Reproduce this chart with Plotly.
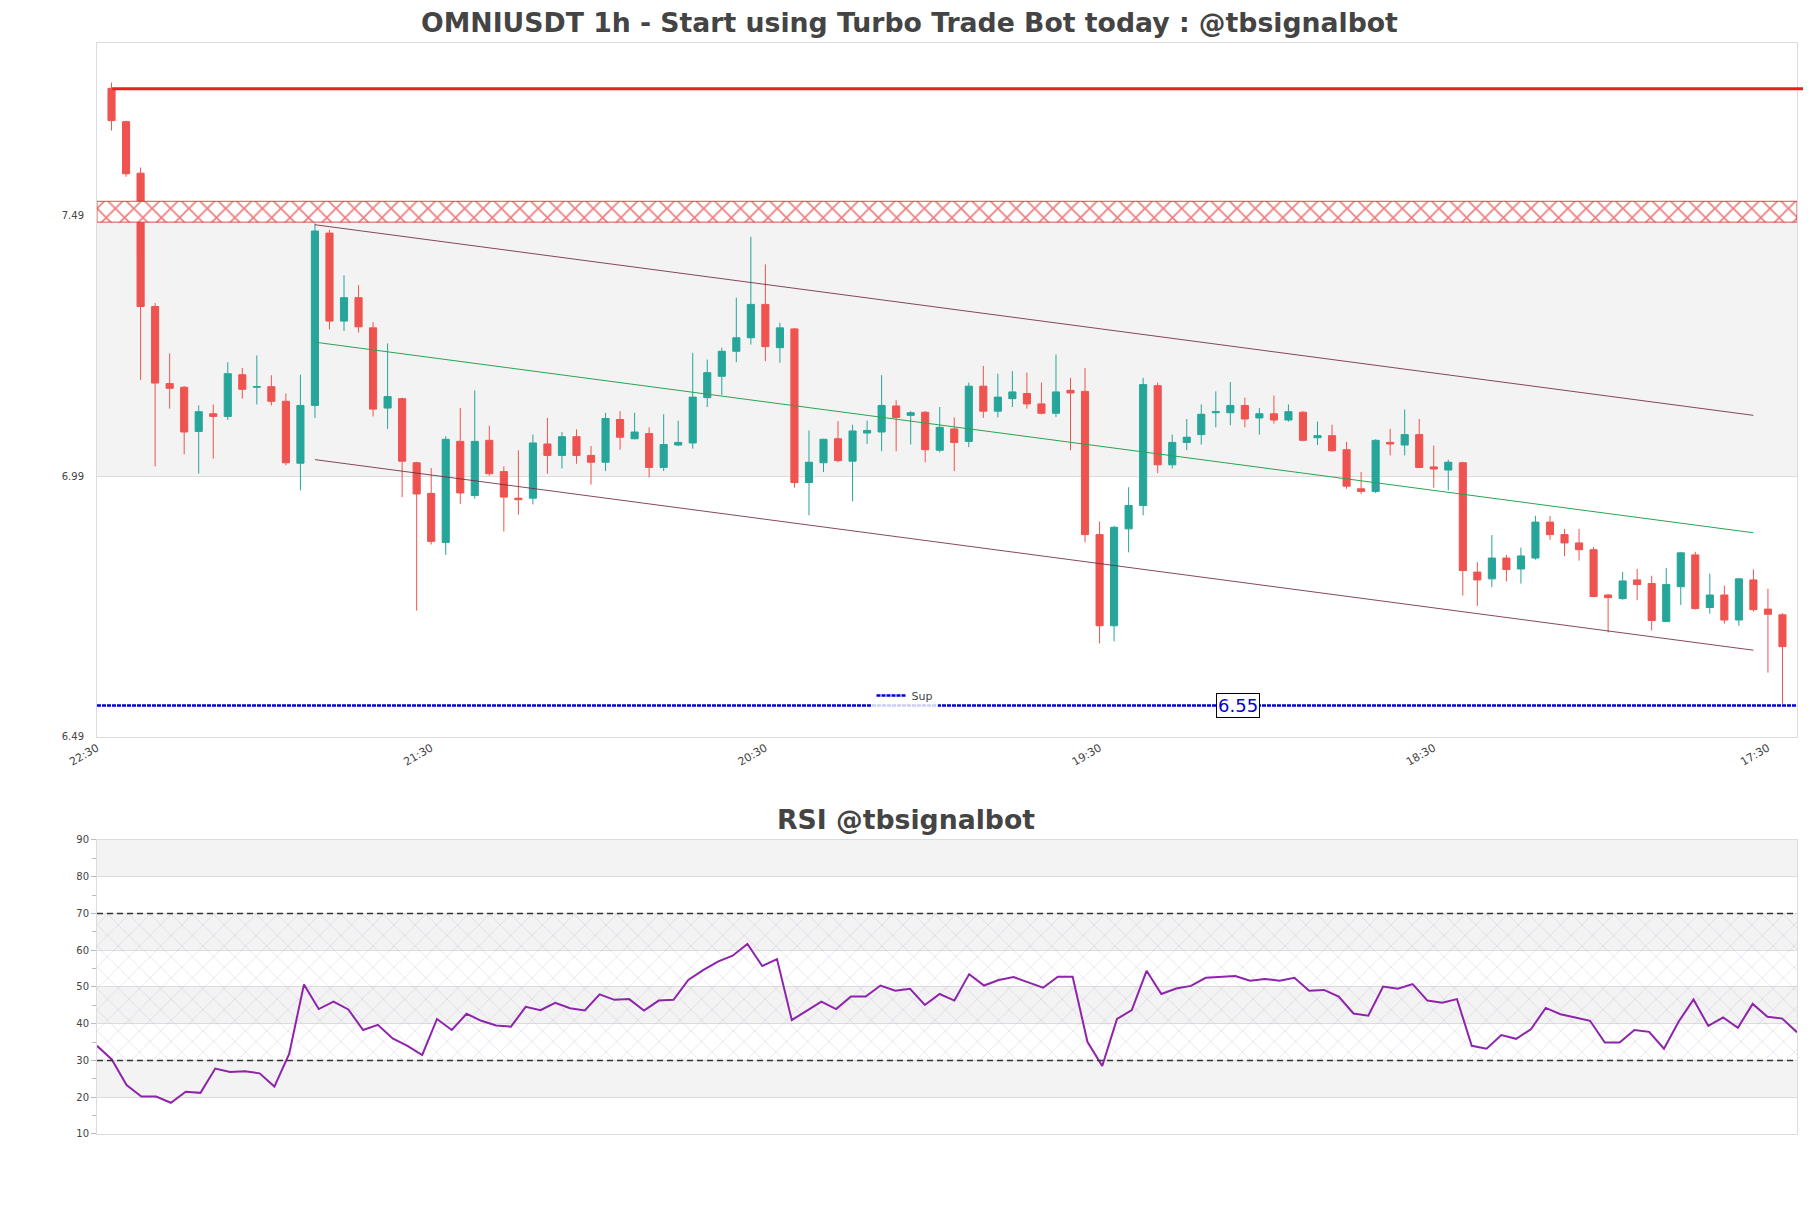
import pandas as pd
import plotly.graph_objects as go

TITLE = "OMNIUSDT 1h - Start using Turbo Trade Bot today : @tbsignalbot"
RSI_TITLE = "RSI @tbsignalbot"
FIRST_CANDLE = "2024-10-28 23:30"

# hourly candles, left to right
opens = [
	7.735, 7.671, 7.572, 7.316, 7.168, 7.161, 7.076, 7.110, 7.105, 7.185,
	7.161, 7.162, 7.134, 7.015, 7.126, 7.457, 7.288, 7.333, 7.275, 7.121,
	7.139, 7.016, 6.957, 6.863, 7.057, 6.953, 7.059, 6.999, 6.948, 6.948,
	7.052, 7.030, 7.066, 7.030, 7.017, 7.099, 7.062, 7.072, 7.007, 7.050,
	7.054, 7.141, 7.182, 7.230, 7.256, 7.320, 7.237, 7.273, 6.978, 7.016,
	7.062, 7.019, 7.073, 7.075, 7.125, 7.107, 7.113, 7.040, 7.081, 7.057,
	7.163, 7.115, 7.139, 7.149, 7.129, 7.111, 7.155, 7.153, 6.878, 6.703,
	6.889, 6.934, 7.164, 7.012, 7.055, 7.070, 7.112, 7.112, 7.126, 7.102,
	7.110, 7.098, 7.113, 7.064, 7.068, 7.041, 6.966, 6.961, 7.055, 7.050,
	7.070, 7.008, 7.002, 7.016, 6.806, 6.793, 6.833, 6.812, 6.833, 6.902,
	6.878, 6.862, 6.849, 6.762, 6.755, 6.791, 6.784, 6.711, 6.778, 6.839,
	6.738, 6.762, 6.714, 6.791, 6.735, 6.724,
]
highs = [
	7.746, 7.673, 7.583, 7.323, 7.226, 7.163, 7.126, 7.128, 7.209, 7.198,
	7.222, 7.184, 7.149, 7.185, 7.476, 7.463, 7.376, 7.357, 7.286, 7.245,
	7.141, 7.018, 7.006, 7.067, 7.121, 7.155, 7.087, 7.009, 7.040, 7.070,
	7.102, 7.075, 7.080, 7.048, 7.112, 7.115, 7.112, 7.084, 7.109, 7.097,
	7.227, 7.214, 7.237, 7.333, 7.450, 7.397, 7.285, 7.275, 7.078, 7.062,
	7.096, 7.089, 7.097, 7.184, 7.136, 7.115, 7.115, 7.123, 7.103, 7.170,
	7.202, 7.187, 7.192, 7.189, 7.170, 7.224, 7.179, 7.198, 6.903, 6.895,
	6.969, 7.179, 7.170, 7.070, 7.100, 7.128, 7.153, 7.171, 7.141, 7.121,
	7.145, 7.128, 7.115, 7.095, 7.089, 7.056, 6.998, 7.061, 7.081, 7.118,
	7.100, 7.049, 7.022, 7.018, 6.825, 6.877, 6.839, 6.853, 6.914, 6.914,
	6.889, 6.889, 6.854, 6.764, 6.806, 6.812, 6.799, 6.814, 6.844, 6.845,
	6.803, 6.780, 6.794, 6.811, 6.774, 6.727,
]
lows = [
	7.654, 7.565, 7.175, 7.009, 7.120, 7.032, 6.995, 7.024, 7.098, 7.139,
	7.128, 7.126, 7.011, 6.963, 7.102, 7.272, 7.269, 7.266, 7.105, 7.081,
	6.950, 6.732, 6.859, 6.839, 6.937, 6.947, 6.991, 6.884, 6.916, 6.936,
	6.995, 7.005, 7.014, 6.974, 7.000, 7.041, 7.061, 6.988, 7.000, 7.048,
	7.043, 7.123, 7.146, 7.209, 7.243, 7.211, 7.208, 6.968, 6.915, 6.998,
	7.017, 6.942, 7.052, 7.038, 7.038, 7.051, 7.017, 7.036, 7.000, 7.046,
	7.102, 7.103, 7.123, 7.120, 7.109, 7.104, 7.040, 6.863, 6.669, 6.673,
	6.844, 6.915, 6.996, 7.005, 7.040, 7.051, 7.084, 7.088, 7.084, 7.070,
	7.091, 7.095, 7.057, 7.050, 7.037, 6.966, 6.956, 6.958, 7.030, 7.030,
	7.006, 6.968, 6.963, 6.761, 6.741, 6.777, 6.788, 6.784, 6.830, 6.868,
	6.837, 6.828, 6.758, 6.690, 6.753, 6.752, 6.694, 6.710, 6.743, 6.734,
	6.726, 6.707, 6.703, 6.730, 6.613, 6.553,
]
closes = [
	7.673, 7.571, 7.316, 7.169, 7.159, 7.075, 7.114, 7.105, 7.187, 7.157,
	7.162, 7.134, 7.016, 7.126, 7.461, 7.288, 7.333, 7.277, 7.119, 7.143,
	7.019, 6.956, 6.865, 7.061, 6.958, 7.057, 6.995, 6.950, 6.945, 7.054,
	7.030, 7.066, 7.030, 7.017, 7.101, 7.065, 7.075, 7.007, 7.051, 7.055,
	7.142, 7.189, 7.230, 7.256, 7.320, 7.239, 7.275, 6.978, 7.017, 7.061,
	7.020, 7.077, 7.078, 7.126, 7.103, 7.112, 7.041, 7.084, 7.055, 7.163,
	7.115, 7.142, 7.152, 7.129, 7.111, 7.152, 7.150, 6.878, 6.703, 6.892,
	6.934, 7.166, 7.012, 7.055, 7.065, 7.109, 7.114, 7.126, 7.100, 7.110,
	7.098, 7.114, 7.059, 7.068, 7.039, 6.971, 6.961, 7.059, 7.052, 7.070,
	7.007, 7.004, 7.017, 6.809, 6.791, 6.833, 6.811, 6.837, 6.902, 6.878,
	6.862, 6.849, 6.759, 6.757, 6.789, 6.782, 6.713, 6.782, 6.843, 6.736,
	6.762, 6.714, 6.793, 6.734, 6.725, 6.663,
]
rsi = [
	34.0, 30.3, 23.3, 20.2, 20.2, 18.5, 21.5, 21.2, 27.8, 26.9,
	27.1, 26.5, 22.9, 31.8, 50.7, 44.0, 46.0, 43.9, 38.3, 39.7,
	36.0, 34.0, 31.5, 41.3, 38.3, 42.7, 40.8, 39.5, 39.2, 44.6,
	43.7, 45.7, 44.2, 43.6, 48.0, 46.5, 46.7, 43.6, 46.3, 46.5,
	51.9, 54.6, 56.9, 58.5, 61.7, 55.7, 57.6, 41.0, 43.5, 46.0,
	44.0, 47.4, 47.4, 50.4, 49.0, 49.5, 45.1, 48.1, 46.3, 53.5,
	50.4, 51.9, 52.7, 51.3, 49.8, 52.8, 52.8, 35.1, 28.5, 41.3,
	43.7, 54.4, 48.1, 49.6, 50.3, 52.5, 52.8, 53.0, 51.7, 52.2,
	51.7, 52.5, 49.0, 49.2, 47.4, 42.8, 42.2, 50.1, 49.5, 50.8,
	46.3, 45.7, 46.7, 34.0, 33.2, 36.9, 35.9, 38.5, 44.3, 42.6,
	41.7, 40.8, 34.9, 34.9, 38.3, 37.8, 33.2, 40.6, 46.6, 39.4,
	41.7, 38.9, 45.4, 41.9, 41.4, 37.7,
]

# levels and channel
resistance = 7.734
zone_low, zone_high = 7.478, 7.518
support = 6.55
chan_idx = [14, 113]
chan_upper = [7.473, 7.107]
chan_mid = [7.2475, 6.8815]
chan_lower = [7.022, 6.656]

price_ticks = [6.49, 6.99, 7.49]
price_top = 7.822
rsi_ticks = [10, 20, 30, 40, 50, 60, 70, 80, 90]
rsi_bands = [(20, 30), (40, 50), (60, 70), (80, 90)]
tick_offsets = [-1, 22, 45, 68, 91, 114]
tick_labels = ["22:30", "21:30", "20:30", "19:30", "18:30", "17:30"]

GRID = '#dcdcdc'
BAND = '#f3f3f3'
UP = '#26a69a'
DOWN = '#ef5350'
W, H = 1803, 1200  # page body keeps an 8px margin


def build_fig():
	times = pd.date_range(FIRST_CANDLE, periods=len(opens), freq="h")
	hour = pd.Timedelta(hours=1)
	x_lo, x_hi = times[0] - hour, times[-1] + hour
	tickvals = [times[0] + k * hour for k in tick_offsets]
	chan_x = [times[k] for k in chan_idx]

	fig = go.Figure()

	# red hatched zone
	fig.add_trace(go.Scatter(
		x=[x_lo, x_hi, x_hi, x_lo, x_lo],
		y=[zone_low, zone_low, zone_high, zone_high, zone_low],
		mode='lines', fill='toself', fillcolor='white',
		line=dict(color='rgba(225,30,30,0.8)', width=1),
		fillpattern=dict(shape='x', fgcolor='#e00000', bgcolor='white', size=13, solidity=0.26),
		showlegend=False, hoverinfo='skip'))

	for ys, clr in [(chan_upper, 'rgba(115,40,60,0.85)'), (chan_mid, 'rgb(40,165,80)'),
					(chan_lower, 'rgba(115,40,60,0.85)')]:
		fig.add_trace(go.Scatter(x=chan_x, y=ys, mode='lines', line=dict(color=clr, width=1),
								 showlegend=False, hoverinfo='skip'))

	fig.add_trace(go.Candlestick(
		x=times, open=opens, high=highs, low=lows, close=closes,
		increasing=dict(line=dict(color=UP, width=1), fillcolor=UP),
		decreasing=dict(line=dict(color=DOWN, width=1), fillcolor=DOWN),
		showlegend=False))

	fig.add_trace(go.Scatter(
		x=[x_lo, x_hi], y=[support, support], mode='lines', name='Sup',
		line=dict(color='#0000dd', width=2.5, dash='4px,1px')))

	# RSI panel
	fig.add_trace(go.Scatter(
		x=[times[0], times[-1], times[-1], times[0], times[0]],
		y=[30, 30, 70, 70, 30], xaxis='x2', yaxis='y2',
		mode='lines', fill='toself', fillcolor='rgba(0,0,0,0)', line=dict(width=0),
		fillpattern=dict(shape='x', fgcolor='rgba(170,150,200,0.7)', bgcolor='rgba(0,0,0,0)',
						 size=15, solidity=0.09),
		showlegend=False, hoverinfo='skip'))
	fig.add_trace(go.Scatter(
		x=times, y=rsi, xaxis='x2', yaxis='y2', mode='lines',
		line=dict(color='rgb(142,36,170)', width=2), showlegend=False))

	shapes = [dict(type='rect', xref='x domain', x0=0, x1=1, yref='y', y0=price_ticks[1], y1=price_ticks[2],
				   fillcolor=BAND, line=dict(width=0), layer='below')]
	for lo, hi in rsi_bands:
		shapes.append(dict(type='rect', xref='x2 domain', x0=0, x1=1, yref='y2', y0=lo, y1=hi,
						   fillcolor=BAND, line=dict(width=0), layer='below'))
	for lvl in [30, 70]:
		shapes.append(dict(type='line', xref='x2 domain', x0=0, x1=1, yref='y2', y0=lvl, y1=lvl,
						   line=dict(color='#333', width=1.3, dash='6px,4px')))
	shapes.append(dict(type='line', xref='paper', x0=0.009, x1=1.006, yref='y', y0=resistance, y1=resistance,
					   line=dict(color='rgb(236,30,30)', width=3)))

	fig.update_layout(
		width=W, height=H,
		margin=dict(l=89, r=14, t=35, b=74),
		paper_bgcolor='white', plot_bgcolor='white',
		font=dict(family='DejaVu Sans', size=10, color='#444'),
		title=dict(text=TITLE, x=0.5, xanchor='center', y=1 - 15 / H, yanchor='middle',
				   font=dict(size=26.7, weight='bold', color='#444')),
		shapes=shapes,
		legend=dict(orientation='h', x=0.475, xanchor='center', y=0.402, yanchor='middle',
					bgcolor='rgba(255,255,255,0.8)', font=dict(size=11), itemwidth=30),
		xaxis=dict(type='date', domain=[0, 1], anchor='y', range=[x_lo, x_hi],
				   tickvals=tickvals, ticktext=tick_labels, tickangle=-30, tickfont=dict(size=11),
				   showgrid=False, showline=True, mirror=True, linecolor=GRID,
				   rangeslider=dict(visible=False)),
		yaxis=dict(domain=[0.3642, 1], anchor='x', range=[price_ticks[0], price_top],
				   tickvals=price_ticks, ticktext=[f"{v:.2f}" for v in price_ticks],
				   showgrid=True, gridcolor=GRID, zeroline=False,
				   showline=True, mirror=True, linecolor=GRID, ticklabelstandoff=10),
		xaxis2=dict(type='date', domain=[0, 1], anchor='y2', range=[times[0], times[-1]],
					showticklabels=False, showgrid=False, showline=True, mirror=True, linecolor=GRID),
		yaxis2=dict(domain=[0, 0.2695], anchor='x2', range=[10, 90], tickvals=rsi_ticks,
					showgrid=True, gridcolor=GRID, zeroline=False,
					showline=True, mirror=True, linecolor=GRID,
					ticks='outside', ticklen=5, tickcolor='#bbb',
					minor=dict(ticks='outside', ticklen=4, dtick=5, tickcolor='#bbb', showgrid=False)),
		annotations=[
			dict(text=RSI_TITLE, xref='paper', yref='paper', x=0.4756, y=0.2887, xanchor='center',
				 yanchor='middle', showarrow=False, font=dict(size=26.7, weight='bold', color='#444')),
			dict(text=f"{support:.2f}", xref='paper', yref='y', x=0.671, y=support, xanchor='center',
				 yanchor='middle', showarrow=False, font=dict(size=18, color='#0000dd'),
				 bgcolor='white', bordercolor='black', borderwidth=1, borderpad=1),
		],
	)
	return fig


if __name__ == '__main__':
	fig = build_fig()
	fig.write_html("out.html")
